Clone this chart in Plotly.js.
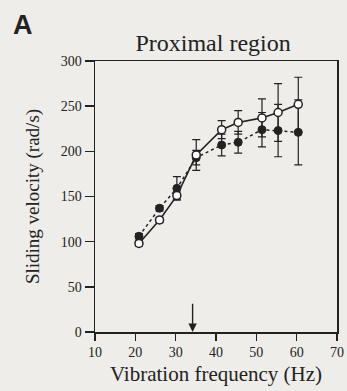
<!DOCTYPE html>
<html>
<head>
<meta charset="utf-8">
<script src="https://cdn.plot.ly/plotly-3.0.1.min.js"></script>
<style>
  html, body { margin: 0; padding: 0; background: #eeede9; }
  #chart { width: 347px; height: 391px; }
</style>
</head>
<body>
<div id="chart"></div>
<script>
// Vibration frequency (Hz)
const freqOpen = [20.9, 26.0, 30.3, 35.1, 41.4, 45.5, 51.4, 55.4, 60.4];
const velOpen = [98, 124, 151, 196, 224, 232, 237, 243, 252];
const errOpen = [3, 3, 4, 17, 10, 13, 21, 32, 30];

const freqFilled = [20.9, 26.0, 30.3, 35.1, 41.4, 45.5, 51.4, 55.4, 60.4];
const velFilled = [106, 137, 159, 193, 207, 210, 224, 223, 221];
const errFilled = [3, 3, 13, 8, 12, 12, 19, 29, 36];

const xTicks = [10, 20, 30, 40, 50, 60, 70];
const yTicks = [0, 50, 100, 150, 200, 250, 300];
const arrowFreq = 34.2;

const ink = '#222222';
const bg = '#eeede9';
const serif = 'Liberation Serif, Times New Roman, serif';

const traces = [
  {
    x: freqFilled, y: velFilled, type: 'scatter', mode: 'lines+markers',
    line: { color: ink, width: 1.5, dash: 'dot' },
    marker: { symbol: 'circle', size: 8, color: ink, line: { color: ink, width: 1 } },
    error_y: { type: 'data', array: errFilled, visible: true, color: ink, thickness: 1.2, width: 4 },
    showlegend: false, cliponaxis: false
  },
  {
    x: freqOpen, y: velOpen, type: 'scatter', mode: 'lines+markers',
    line: { color: ink, width: 1.6 },
    marker: { symbol: 'circle', size: 8, color: '#ffffff', line: { color: ink, width: 1.5 } },
    error_y: { type: 'data', array: errOpen, visible: true, color: ink, thickness: 1.2, width: 4 },
    showlegend: false, cliponaxis: false
  }
];

const layout = {
  width: 347, height: 391,
  paper_bgcolor: bg, plot_bgcolor: bg,
  margin: { l: 95, r: 10, t: 61, b: 59 },
  font: { family: serif, color: ink, size: 14 },
  title: {
    text: 'Proximal region',
    font: { family: serif, size: 24, color: ink },
    x: 0.614, xanchor: 'center', y: 0.89, yanchor: 'middle'
  },
  xaxis: {
    range: [10, 70], tickvals: xTicks, ticktext: xTicks.map(String),
    showgrid: false, zeroline: false,
    showline: true, linecolor: ink, linewidth: 1.5, mirror: true,
    ticks: 'outside', ticklen: 7, tickwidth: 1.5, tickcolor: ink,
    tickfont: { family: serif, size: 14, color: ink },
    title: { text: 'Vibration frequency (Hz)', font: { family: serif, size: 21, color: ink }, standoff: 7 }
  },
  yaxis: {
    range: [0, 300], tickvals: yTicks, ticktext: yTicks.map(String),
    showgrid: false, zeroline: false,
    showline: true, linecolor: ink, linewidth: 1.5, mirror: true,
    ticks: 'outside', ticklen: 9, tickwidth: 1.5, tickcolor: ink,
    tickfont: { family: serif, size: 14, color: ink },
    title: { text: 'Sliding velocity (rad/s)', font: { family: serif, size: 19, color: ink }, standoff: 16 }
  },
  annotations: [
    {
      x: arrowFreq, y: 0, xref: 'x', yref: 'y',
      ax: arrowFreq, ay: 33, axref: 'x', ayref: 'y',
      showarrow: true, arrowhead: 2, arrowsize: 1.2, arrowwidth: 1.4, arrowcolor: ink,
      standoff: 0, text: ''
    },
    {
      text: '<b>A</b>', xref: 'paper', yref: 'paper',
      x: -0.347, y: 1.133, xanchor: 'left', yanchor: 'middle', showarrow: false,
      font: { family: 'Liberation Sans, Arial, sans-serif', size: 27, color: ink }
    }
  ]
};

Plotly.newPlot('chart', traces, layout, { displayModeBar: false, staticPlot: true });
</script>
</body>
</html>
